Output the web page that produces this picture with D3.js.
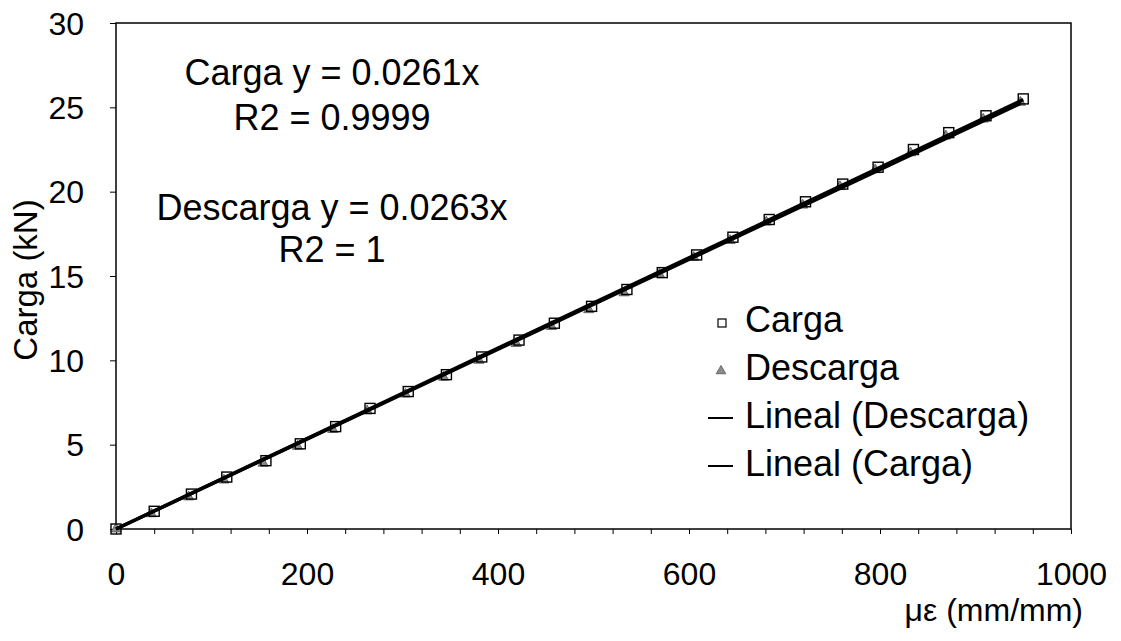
<!DOCTYPE html>
<html>
<head>
<meta charset="utf-8">
<script src="https://cdn.jsdelivr.net/npm/d3@7"></script>
<style>
  body { margin: 0; background: #fff; }
  svg text { font-family: "Liberation Sans", Arial, sans-serif; fill: #000; }
</style>
</head>
<body>
<svg id="chart" width="1121" height="641"></svg>
<script>
// valeurs (µε, kN)
const cargaX = [0, 40, 79, 116, 157, 193, 230, 266, 306, 346, 383, 422, 459, 498, 535, 572, 608, 646, 684, 722, 761, 798, 835, 872, 911, 950];
const cargaY = [0, 1.05, 2.07, 3.08, 4.05, 5.05, 6.07, 7.15, 8.15, 9.15, 10.2, 11.2, 12.2, 13.2, 14.2, 15.2, 16.25, 17.3, 18.35, 19.4, 20.45, 21.45, 22.5, 23.5, 24.5, 25.5];
const descargaX = [0, 37, 76, 113, 154, 190, 227, 263, 303, 343, 380, 419, 456, 495, 532, 569, 605, 643, 681, 719, 758, 795, 832, 869, 908, 947];
const descargaY = [0, 0.9, 1.9, 2.9, 3.9, 4.9, 5.9, 7.0, 8.0, 9.0, 10.0, 11.0, 12.0, 13.0, 14.0, 15.1, 16.1, 17.1, 18.2, 19.2, 20.3, 21.3, 22.3, 23.3, 24.3, 25.3];

const xTicks = [0, 200, 400, 600, 800, 1000];
const yTicks = [0, 5, 10, 15, 20, 25, 30];
const legendLabels = ["Carga", "Descarga", "Lineal (Descarga)", "Lineal (Carga)"];
const eqLabels = ["Carga y = 0.0261x", "R2 = 0.9999", "Descarga y = 0.0263x", "R2 = 1"];

const svg = d3.select('#chart');
const plotLeft = 116, plotRight = 1071, plotTop = 23, plotBottom = 529;

const x = d3.scaleLinear().domain([0, 1000]).range([plotLeft, plotRight]);
const y = d3.scaleLinear().domain([0, 30]).range([plotBottom, plotTop]);

// cadre (axes + bords haut/droite)
svg.append('rect')
  .attr('x', plotLeft).attr('y', plotTop)
  .attr('width', plotRight - plotLeft).attr('height', plotBottom - plotTop)
  .attr('fill', 'none').attr('stroke', '#000').attr('stroke-width', 1.5);

// axe Y
const yAxis = svg.append('g')
  .attr('transform', `translate(${plotLeft},0)`)
  .call(d3.axisLeft(y).tickValues(yTicks).tickSize(6).tickPadding(26).tickFormat(d3.format('d')));
yAxis.select('.domain').remove();
yAxis.selectAll('text').style('font-size', '32px').attr('dy', '0.35em');

// axe X : petites graduations tous les 40
const xAxisMinor = svg.append('g')
  .attr('transform', `translate(0,${plotBottom})`)
  .call(d3.axisBottom(x).tickValues(d3.range(0, 1001, 40)).tickSize(5).tickFormat(''));
xAxisMinor.select('.domain').remove();

const xAxis = svg.append('g')
  .attr('transform', `translate(0,${plotBottom})`)
  .call(d3.axisBottom(x).tickValues(xTicks).tickSize(0).tickPadding(33).tickFormat(d3.format('d')));
xAxis.select('.domain').remove();
xAxis.selectAll('text').style('font-size', '32px');

// titres des axes
svg.append('text')
  .attr('x', 1083).attr('y', 621)
  .attr('text-anchor', 'end')
  .style('font-size', '32px')
  .text('με (mm/mm)');

svg.append('text')
  .attr('transform', 'translate(37,280) rotate(-90)')
  .attr('text-anchor', 'middle')
  .style('font-size', '33px')
  .text('Carga (kN)');

// marqueurs
const carga = cargaX.map((v, i) => ({ x: v, y: cargaY[i] }));
const descarga = descargaX.map((v, i) => ({ x: v, y: descargaY[i] }));

const triangle = d3.symbol().type(d3.symbolTriangle).size(45);

svg.append('g').selectAll('path')
  .data(descarga)
  .join('path')
  .attr('d', triangle)
  .attr('transform', d => `translate(${x(d.x)},${y(d.y)})`)
  .attr('fill', '#8a8a8a').attr('stroke', '#555').attr('stroke-width', 0.8);

svg.append('g').selectAll('rect')
  .data(carga)
  .join('rect')
  .attr('x', d => x(d.x) - 5).attr('y', d => y(d.y) - 5)
  .attr('width', 10).attr('height', 10)
  .attr('fill', 'none').attr('stroke', '#000').attr('stroke-width', 1.4);

// tendances linéaires (passant par l'origine)
function slopeThroughOrigin(pts) {
  return d3.sum(pts, p => p.x * p.y) / d3.sum(pts, p => p.x * p.x);
}
[descarga, carga].forEach(pts => {
  const m = slopeThroughOrigin(pts);
  const xMax = d3.max(pts, p => p.x);
  svg.append('line')
    .attr('x1', x(0)).attr('y1', y(0))
    .attr('x2', x(xMax)).attr('y2', y(m * xMax))
    .attr('stroke', '#000').attr('stroke-width', 3.5);
});

// équations
const eqY = [85, 130, 220, 262];
eqLabels.forEach((t, i) => {
  svg.append('text')
    .attr('x', 332).attr('y', eqY[i])
    .attr('text-anchor', 'middle')
    .style('font-size', '36px')
    .text(t);
});

// légende
const legend = svg.append('g').attr('transform', 'translate(708,332)');
legendLabels.forEach((t, i) => {
  const g = legend.append('g').attr('transform', `translate(0,${i * 48})`);
  const cy = -9;
  if (i === 0) {
    g.append('rect').attr('x', 10).attr('y', cy - 4).attr('width', 8).attr('height', 8)
      .attr('fill', 'none').attr('stroke', '#000').attr('stroke-width', 1.2);
  } else if (i === 1) {
    g.append('path').attr('d', d3.symbol().type(d3.symbolTriangle).size(40))
      .attr('transform', `translate(13,${cy})`)
      .attr('fill', '#8a8a8a').attr('stroke', '#555').attr('stroke-width', 0.8);
  } else {
    g.append('line').attr('x1', 0).attr('x2', 25).attr('y1', cy - 1).attr('y2', cy - 1)
      .attr('stroke', '#000').attr('stroke-width', 2);
  }
  g.append('text')
    .attr('x', 37).attr('y', 0)
    .style('font-size', '36px')
    .text(t);
});
</script>
</body>
</html>
